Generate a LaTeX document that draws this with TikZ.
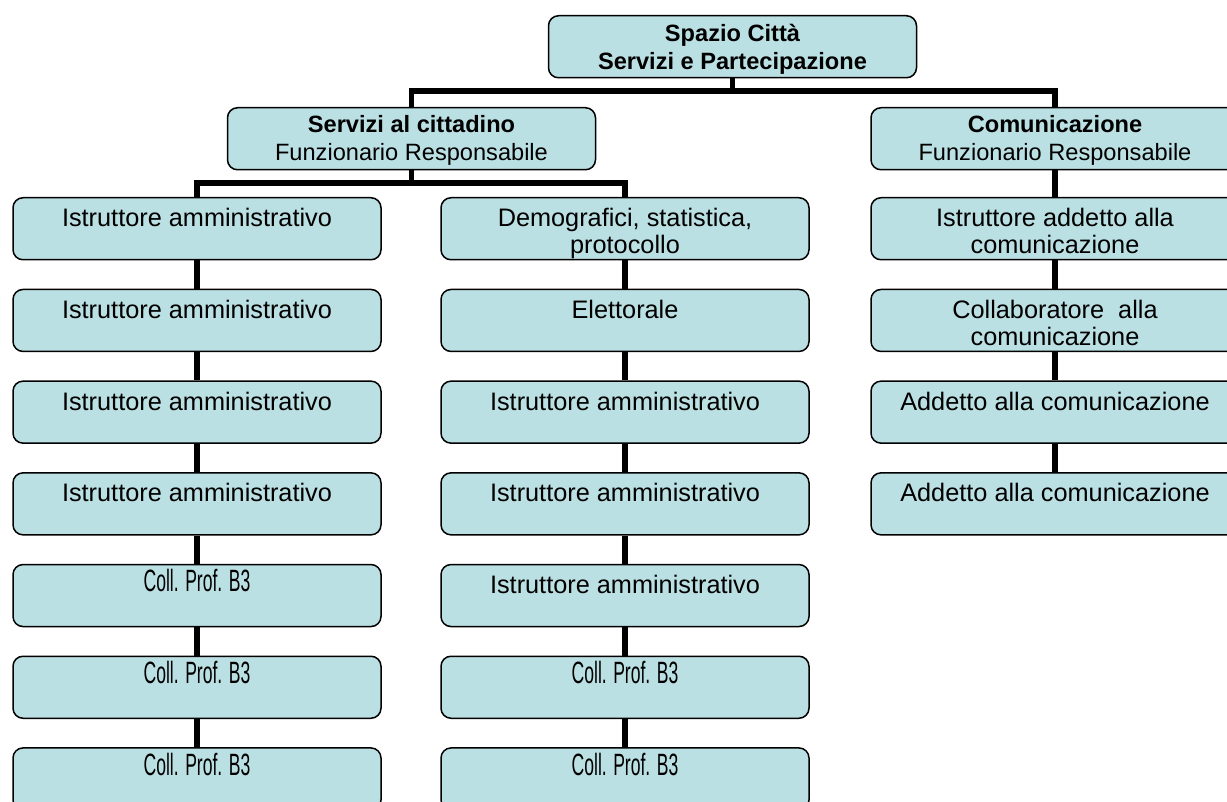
\documentclass[tikz,border=0pt]{standalone}
\usepackage{fontspec}
\setmainfont{Liberation Sans}
\newfontfamily\narrowsans[FakeStretch=0.57]{Liberation Sans}
\usetikzlibrary{positioning}
\definecolor{orgFill}{HTML}{BBE0E3}

% box text hangs from the top of a fixed box
\newcommand{\cell}[2][14.5pt]{\parbox[c][31pt][t]{184pt}{\centering\rule{0pt}{#1}#2}}
\newcommand{\collB}{{\narrowsans\fontsize{15.4pt}{16pt}\selectfont Coll. Prof. B3}}

\begin{document}
\begin{tikzpicture}[x=0.5pt,y=-0.5pt,
  orgbox/.style={draw=black,fill=orgFill,line width=0.75pt,rounded corners=5pt,
                 inner sep=0pt,font=\fontsize{12.65pt}{13.5pt}\selectfont},
  headbox/.style={orgbox,font=\fontsize{11.8pt}{14pt}\selectfont},
  link/.style={line width=2.75pt}]
  \useasboundingbox (0,0) rectangle (1227,802);
  \clip (0,0) rectangle (1227,802);

  % top levels
  \node[headbox,anchor=north] (sc) at (732.5,15)
    {\cell[12.8pt]{\bfseries Spazio Città\\Servizi e Partecipazione}};
  \node[headbox,anchor=north] (srv) at (411.5,107)
    {\cell[12.6pt]{\textbf{Servizi al cittadino}\\Funzionario Responsabile}};
  \node[headbox,anchor=north] (com) at (1055,107)
    {\cell[12.6pt]{\textbf{Comunicazione}\\Funzionario Responsabile}};

  % left column
  \node[orgbox,anchor=north] (a1) at (197,197) {\cell{Istruttore amministrativo}};
  \node[orgbox,below=14.1pt of a1] (a2) {\cell{Istruttore amministrativo}};
  \node[orgbox,below=14.1pt of a2] (a3) {\cell{Istruttore amministrativo}};
  \node[orgbox,below=14.1pt of a3] (a4) {\cell{Istruttore amministrativo}};
  \node[orgbox,below=14.1pt of a4] (a5) {\cell[13.6pt]{\collB}};
  \node[orgbox,below=14.1pt of a5] (a6) {\cell[13.6pt]{\collB}};
  \node[orgbox,below=14.1pt of a6] (a7) {\cell[13.6pt]{\collB}};

  % middle column
  \node[orgbox,anchor=north] (b1) at (625,197) {\cell{Demografici, statistica,\\protocollo}};
  \node[orgbox,below=14.1pt of b1] (b2) {\cell{Elettorale}};
  \node[orgbox,below=14.1pt of b2] (b3) {\cell{Istruttore amministrativo}};
  \node[orgbox,below=14.1pt of b3] (b4) {\cell{Istruttore amministrativo}};
  \node[orgbox,below=14.1pt of b4] (b5) {\cell{Istruttore amministrativo}};
  \node[orgbox,below=14.1pt of b5] (b6) {\cell[13.6pt]{\collB}};
  \node[orgbox,below=14.1pt of b6] (b7) {\cell[13.6pt]{\collB}};

  % right column
  \node[orgbox,anchor=north] (c1) at (1055,197) {\cell{Istruttore addetto alla\\comunicazione}};
  \node[orgbox,below=14.1pt of c1] (c2) {\cell{Collaboratore~ alla\\comunicazione}};
  \node[orgbox,below=14.1pt of c2] (c3) {\cell{Addetto alla comunicazione}};
  \node[orgbox,below=14.1pt of c3] (c4) {\cell{Addetto alla comunicazione}};

  % connectors
  \coordinate (j1) at (732.5,91);
  \coordinate (j2) at (411.5,183);
  \draw[link] (sc.south) -- (j1);
  \draw[link] (srv.north) -- (srv.north |- j1) -- (com.north |- j1) -- (com.north);
  \draw[link] (srv.south) -- (j2);
  \draw[link] (a1.north) -- (a1.north |- j2) -- (b1.north |- j2) -- (b1.north);
  \draw[link] (com.south) -- (c1.north);
  \foreach \u/\v in {a1/a2,a2/a3,a3/a4,a4/a5,a5/a6,a6/a7,
                     b1/b2,b2/b3,b3/b4,b4/b5,b5/b6,b6/b7,c1/c2,c2/c3,c3/c4}
    \draw[link] (\u.south) -- (\v.north);
\end{tikzpicture}
\end{document}
